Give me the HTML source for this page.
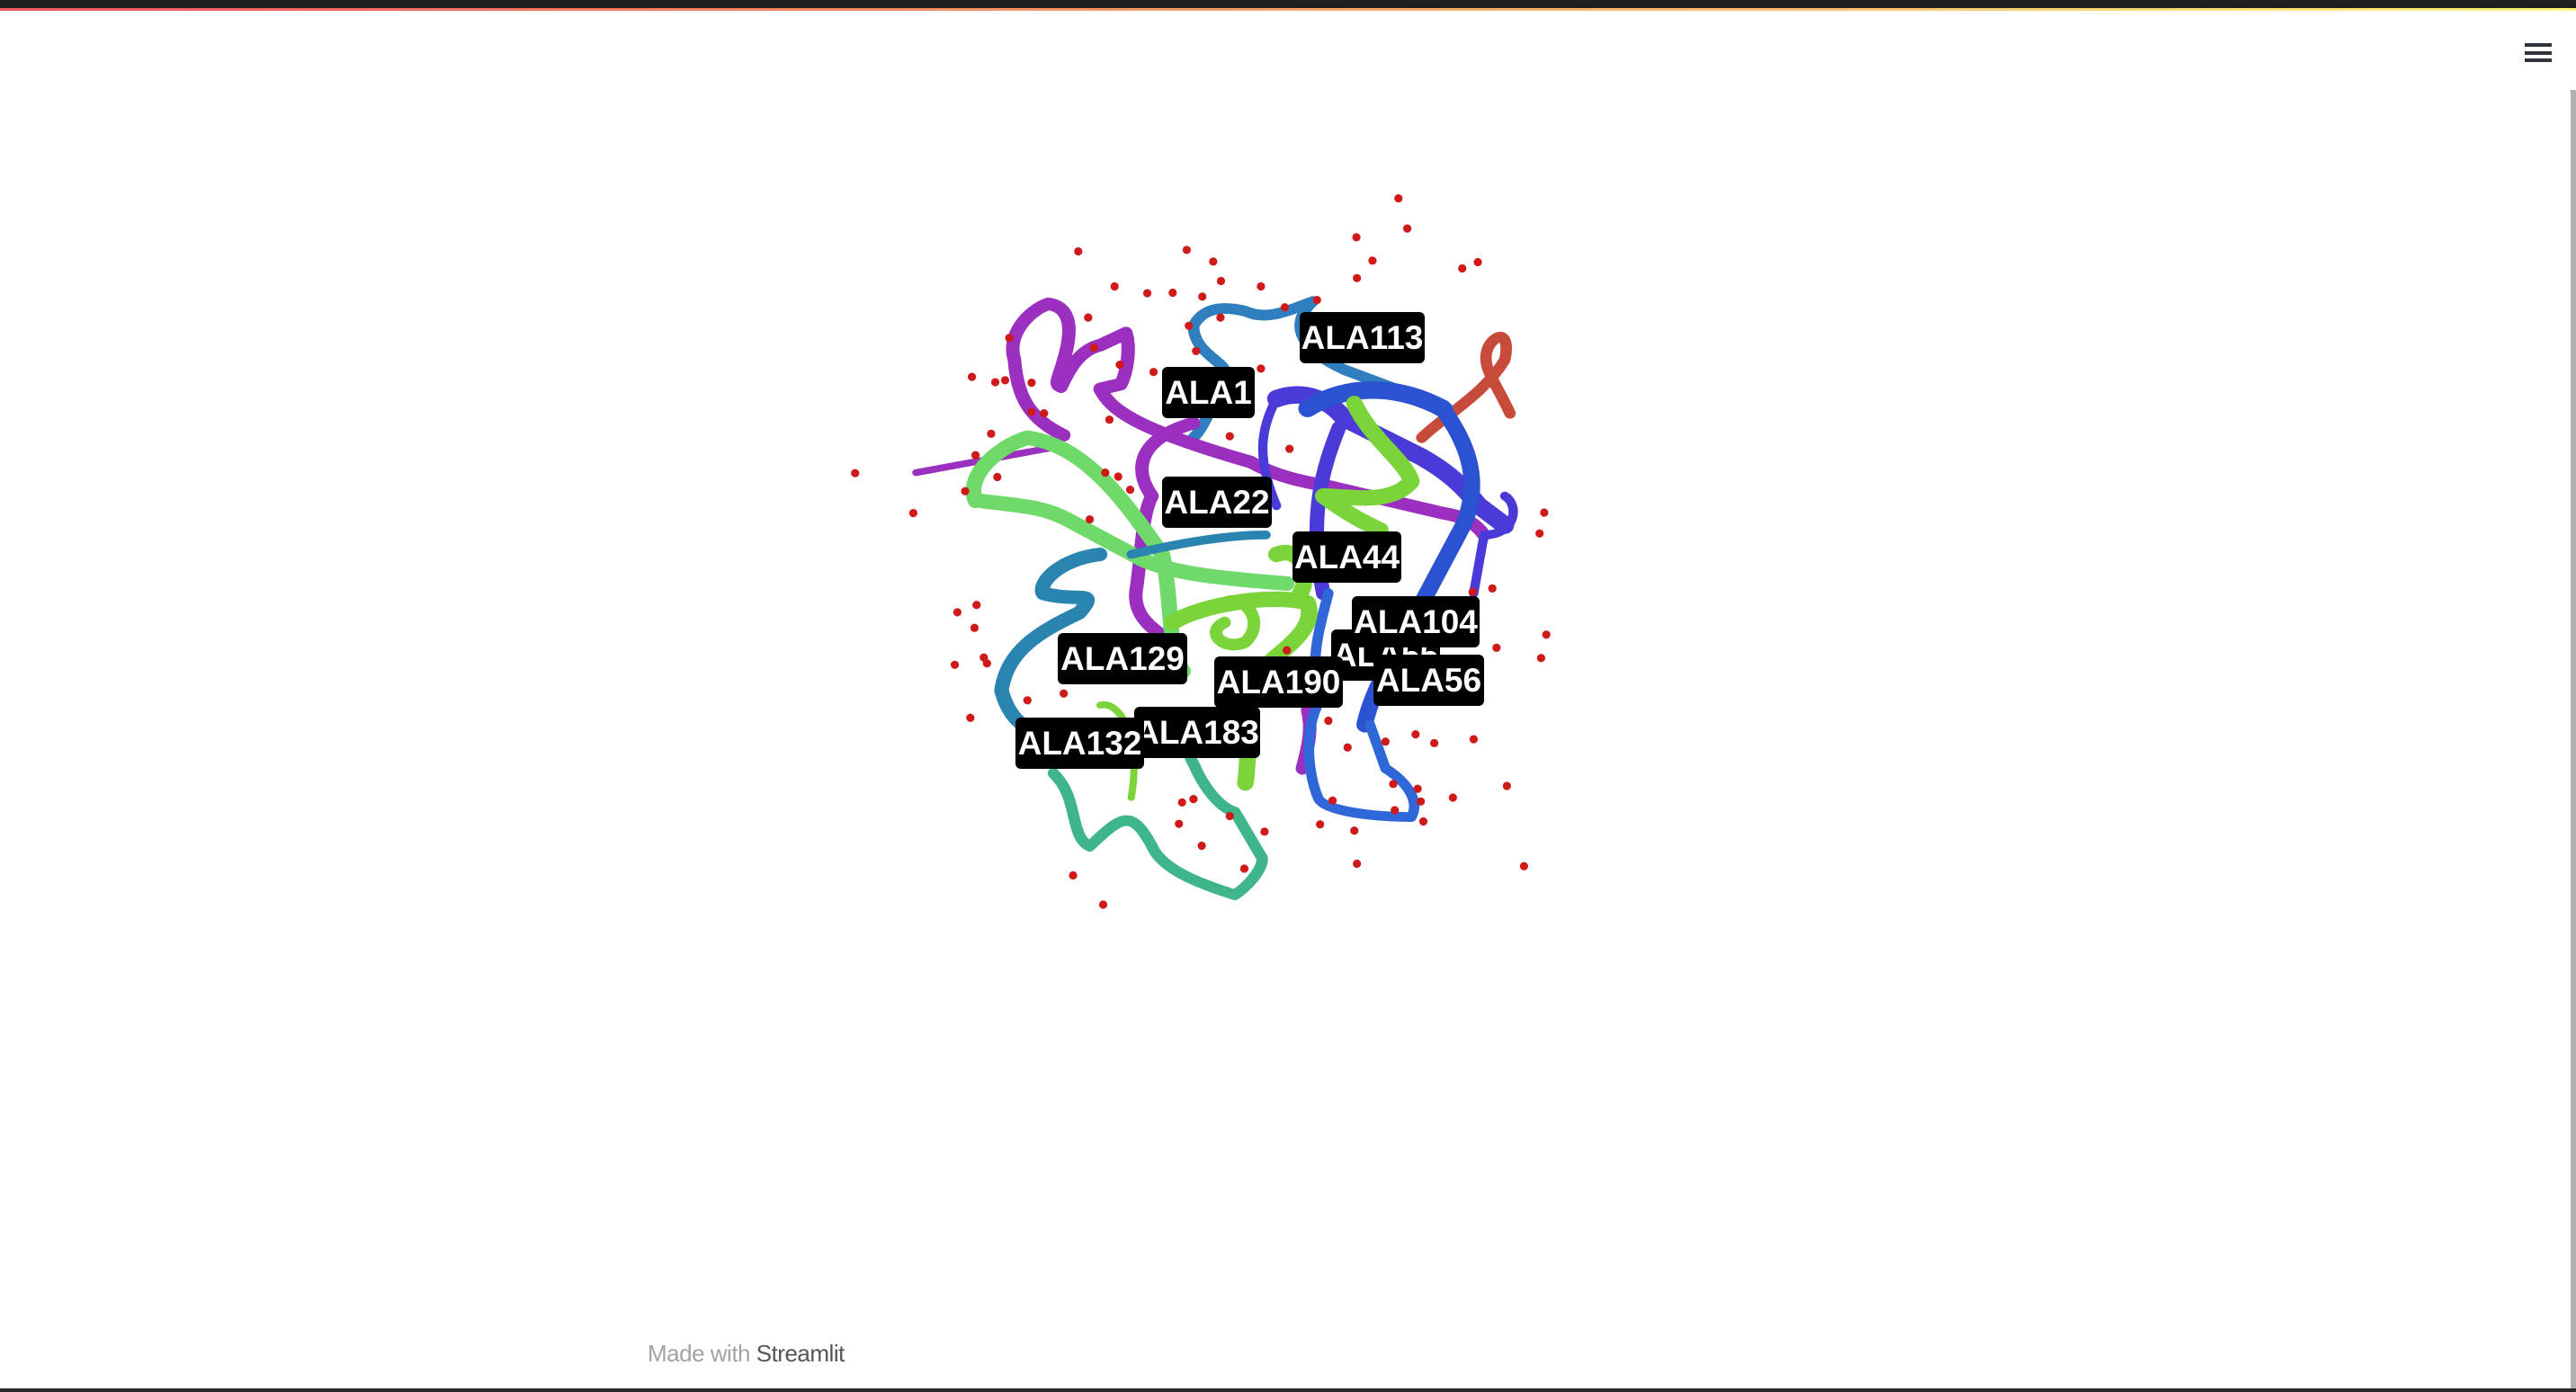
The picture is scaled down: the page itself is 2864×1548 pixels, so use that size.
<!DOCTYPE html>
<html><head><meta charset="utf-8"><style>
html,body{margin:0;padding:0;width:2864px;height:1548px;overflow:hidden;background:#fff;font-family:"Liberation Sans",sans-serif}
#top{position:absolute;left:0;top:0;width:2864px;height:9px;background:#1e1e1e}
#grad{position:absolute;left:0;top:9px;width:2864px;height:3px;background:linear-gradient(90deg,#f0565a,#f5a26a 50%,#fff27a)}
#bottom{position:absolute;left:0;top:1544px;width:2864px;height:4px;background:#2a2a2a}
#scroll{position:absolute;left:2858px;top:100px;width:6px;height:1444px;background:#b0b0b4}
.hb{position:absolute;left:2807px;width:30px;height:4px;background:#31333f}
#foot{position:absolute;left:720px;top:1490px;font-size:26px;color:#a3a3a3;letter-spacing:-0.5px}
#foot span{color:#555}
</style></head><body>
<div id="top"></div>
<div id="grad"></div>
<div id="bottom"></div>
<div id="scroll"></div>
<div>
<div class="hb" style="top:48px"></div>
<div class="hb" style="top:57px"></div>
<div class="hb" style="top:65px"></div>
</div>
<div id="foot">Made with <span>Streamlit</span></div>

<svg width="2864" height="1548" style="position:absolute;left:0;top:0">
<g transform="translate(900,183.8) scale(0.5769,0.5409)" fill="none" stroke-linecap="round" stroke-linejoin="round">
<g stroke="#c84a3a" stroke-width="22">
<path d="M1180,560 C1230,510 1300,470 1340,400 C1350,350 1330,340 1310,370 C1290,410 1320,440 1350,510"/></g>
<g stroke="#2f7fc0" stroke-width="22">
<path d="M740,330 C760,290 800,290 840,300 C880,320 920,300 970,280 C920,330 950,380 1030,420 L1230,500"/>
<path d="M740,330 C740,380 790,400 800,420 C790,470 760,540 740,560"/></g>
<g stroke="#9b2fc0" stroke-width="26">
<path d="M205,632 L480,578" stroke-width="14"/>
<path d="M490,555 C420,520 400,470 395,400 C380,350 420,300 460,285 C500,290 510,330 490,400 C480,440 470,450 485,455 C500,420 520,380 560,370 L610,345 C620,380 610,430 600,450 L560,460 C580,500 620,540 850,610"/>
<path d="M850,610 C900,640 950,650 1000,660 L1220,715 C1250,720 1280,730 1300,760"/>
<path d="M740,530 C640,560 620,620 660,680 C640,720 640,800 630,870 C620,930 670,960 700,980"/>
<path d="M960,1120 C970,1160 960,1200 950,1240"/></g>
<g stroke="#4a3ad8" stroke-width="36">
<path d="M900,480 C950,460 1000,480 1030,520 L1180,600 C1230,630 1260,660 1290,700 L1340,740"/>
<path d="M1020,540 C990,620 960,720 990,880" stroke-width="28"/>
<path d="M900,480 C870,540 860,600 900,700" stroke-width="18"/>
<path d="M1340,680 C1370,700 1360,760 1300,760 L1280,880" stroke-width="18"/></g>
<g stroke="#2b52d0" stroke-width="32">
<path d="M1220,500 C1260,560 1300,640 1260,740 L1130,1000 C1100,1060 1080,1100 1070,1150"/>
<path d="M960,500 C1050,440 1150,460 1220,500" stroke-width="36"/>
<path d="M1000,880 C980,960 960,1040 990,1090 C950,1150 960,1250 980,1300 C990,1330 1100,1340 1160,1340 C1180,1300 1140,1260 1110,1240 L1080,1150" stroke="#2f66d8" stroke-width="20"/></g>
<g stroke="#6fd96a" stroke-width="30">
<path d="M320,690 C300,640 360,580 420,560 C480,570 520,600 560,640 C600,680 640,740 680,800 C700,900 690,1000 720,1040"/>
<path d="M330,690 C400,700 450,700 500,730 L640,810 C700,840 800,850 920,860"/></g>
<g stroke="#2a84b0" stroke-width="28">
<path d="M560,800 C480,810 440,860 450,880 C520,900 560,870 520,920 C440,960 380,1000 370,1080 C380,1120 400,1150 430,1160"/>
<path d="M620,800 C700,780 800,760 880,760" stroke-width="18"/></g>
<g stroke="#7ad43a" stroke-width="32">
<path d="M1050,490 C1080,560 1150,610 1160,650 C1120,700 1040,680 990,680 C1040,720 1080,740 1100,750"/>
<path d="M700,940 C760,900 900,880 960,900 C980,960 900,1000 860,1050 C840,1100 850,1200 840,1270"/>
<path d="M800,900 C840,880 880,940 840,980 C800,1000 760,960 800,940" stroke-width="24"/>
<path d="M900,800 C950,780 970,850 940,890"/></g>
<g stroke="#3fb58a" stroke-width="22">
<path d="M470,1250 C520,1300 500,1380 540,1400 C600,1340 620,1320 660,1400 C680,1450 760,1480 820,1500 C860,1470 880,1430 870,1420 L820,1330 C790,1320 760,1280 740,1230 C720,1200 740,1160 760,1140"/>
<path d="M560,1110 C600,1100 640,1180 620,1300" stroke="#7ad43a" stroke-width="14"/></g>
<g id="dots" fill="#d01a1a" stroke="none"></g>
</g>
<g id="labels" font-family="Liberation Sans, sans-serif" font-weight="bold" font-size="37" fill="#fff"></g>
</svg>
<script>
const dotX=[1135,1152,1054,1085,1258,1288,1055,518,727,778,793,870,588,651,700,757,916,978,792,731,385,537,548,598,663,745,870,313,358,377,428,428,452,578,350,320,362,88,300,200,570,595,618,540,810,925,1416,1407,1420,1410,1316,1324,1278,920,1000,1168,1204,1280,1110,1125,1172,1178,1240,1344,1128,1183,1008,1050,1055,1377,984,285,322,318,280,336,342,310,490,420,718,740,712,756,838,877,1037,566,508,810];
const dotY=[68,130,148,196,212,199,232,177,174,198,238,249,249,263,262,270,292,277,313,330,355,313,375,410,425,382,418,435,446,442,447,507,510,523,552,596,641,633,670,715,632,640,667,728,557,583,714,757,965,1013,870,992,877,997,1142,1170,1188,1180,1185,1272,1282,1308,1300,1276,1326,1349,1306,1368,1436,1441,1355,919,904,951,1027,1012,1024,1136,1086,1100,1310,1303,1354,1399,1446,1370,1197,1520,1460,1338];
const labelText=["ALA113","ALA1","ALA22","ALA44","ALA55","ALA104","ALA56","ALA129","ALA190","ALA183","ALA132"];
const labelX=[1445,1292,1292,1437,1480,1503,1527,1176,1350,1261,1129];
const labelY=[347,408,530,591,700,663,728,704,730,786,798];
const labelW=[139,103,122,121,121,142,123,144,143,140,143];
const NS="http://www.w3.org/2000/svg";
const dg=document.getElementById('dots');
for(let i=0;i<dotX.length;i++){const c=document.createElementNS(NS,'ellipse');
c.setAttribute('cx',dotX[i]);c.setAttribute('cy',dotY[i]);c.setAttribute('rx',8);c.setAttribute('ry',8.5);


dg.appendChild(c);}
const lg=document.getElementById('labels');
for(let i=0;i<labelText.length;i++){const g=document.createElementNS(NS,'g');


const r=document.createElementNS(NS,'rect');r.setAttribute('x',labelX[i]);r.setAttribute('y',labelY[i]);
r.setAttribute('width',labelW[i]);r.setAttribute('height',57);r.setAttribute('rx',6);r.setAttribute('fill','#000');
const t=document.createElementNS(NS,'text');t.setAttribute('x',labelX[i]+labelW[i]/2);t.setAttribute('y',labelY[i]+41);
t.setAttribute('text-anchor','middle');t.textContent=labelText[i];
g.appendChild(r);g.appendChild(t);lg.appendChild(g);}
</script>
</body></html>
